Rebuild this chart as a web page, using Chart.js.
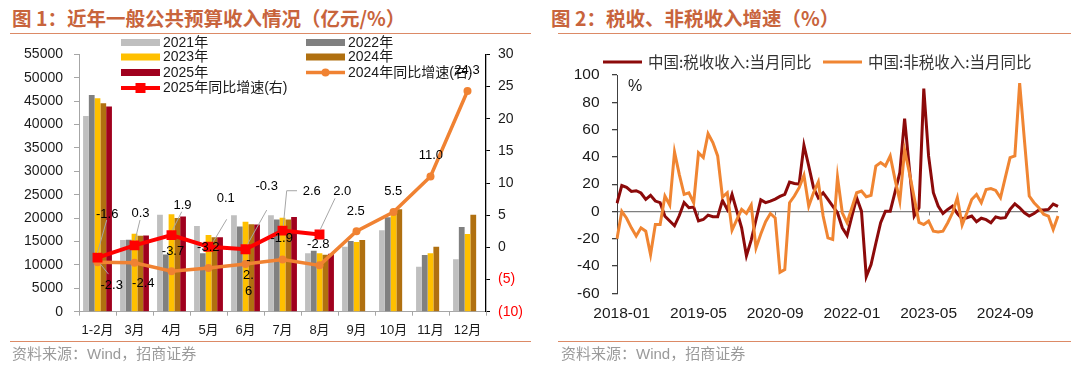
<!DOCTYPE html>
<html>
<head>
<meta charset="utf-8">
<script src="https://cdn.jsdelivr.net/npm/chart.js@4.4.1/dist/chart.umd.min.js"></script>
<style>
  body { margin: 0; width: 1080px; height: 367px; background: #fff; position: relative; overflow: hidden; }
  canvas { position: absolute; top: 0; }
  .title { position: absolute; top: 6px; font: bold 19.5px "Noto Sans CJK SC", sans-serif; color: #c8643c; white-space: nowrap; line-height: 24px; }
  .rule { position: absolute; height: 0; border-top: 1.5px solid #dc8a66; }
  .src { position: absolute; top: 344px; font: 15px "Liberation Sans", "Noto Sans CJK SC", sans-serif; color: #9a9a9a; white-space: nowrap; line-height: 20px; }
</style>
</head>
<body>
<div class="title" style="left:12px">图 1：近年一般公共预算收入情况（亿元/%）</div>
<div class="rule" style="left:10px;width:521px;top:33px"></div>
<div class="title" style="left:551px">图 2：税收、非税收入增速（%）</div>
<div class="rule" style="left:558px;width:513px;top:33px"></div>

<canvas id="revChart" width="540" height="367" style="left:0"></canvas>
<canvas id="taxChart" width="540" height="367" style="left:540px"></canvas>

<div class="rule" style="left:10px;width:521px;top:341px"></div>
<div class="rule" style="left:558px;width:513px;top:341px"></div>
<div class="src" style="left:12px">资料来源：Wind，招商证券</div>
<div class="src" style="left:561px">资料来源：Wind，招商证券</div>

<script>
// ===================
// 图1 数据（亿元 / %）
// ===================
const months = ["1-2月", "3月", "4月", "5月", "6月", "7月", "8月", "9月", "10月", "11月", "12月"];
const rev2021 = [41800, 15300, 20700, 18300, 20600, 20600, 12500, 13900, 17400, 9600, 11200];
const rev2022 = [46300, 15400, 12200, 12500, 18200, 19700, 13000, 15100, 20200, 12100, 18100];
const rev2023 = [45600, 16650, 20800, 16400, 19200, 20100, 12500, 14900, 21300, 12500, 16600];
const rev2024 = [44550, 16250, 20000, 15900, 18700, 19700, 12150, 15300, 21900, 13900, 20700];
const rev2025 = [43850, 16300, 20350, 15900, 18650, 20250, 12400, null, null, null, null];
const yoy2024 = [-2.3, -2.4, -3.7, -3.2, -2.6, -1.9, -2.8, 2.5, 5.5, 11.0, 24.3];
const yoy2025 = [-1.6, 0.3, 1.9, 0.1, -0.3, 2.6, 2.0, null, null, null, null];

// ===================
// 图2 数据（当月同比 %），首个点为被坐标轴截掉的 2017-12
// ===================
const taxYoy = [
  6, 19, 17.6, 14.7, 15.2, 13.5, 8.8, 11.8, 7.6, 6.4, -3.5,
  -7, -10.5, -3, 6.5, 2.7, 3.2, -7, -5.9, -2.7, -3.9,
  -3.9, 8.1, 1.5, 12.5, 0.2, -12, -32.5, -21, -6, 8.5,
  6.5, 7.5, 9, 11, 12.5, 21.5, 20.5, 20, 48.5, 33.3,
  17.4, 10, 13.7, 8.8, 3.9, -1, -12, -17.6, -3.4, 10,
  0.2, -47.8, -39, -23.3, -8.3, 0.2, 0.2, 14.2, 28.4, 68,
  31, -3.4, 2.7, 90, 40.7, 13.7, 3.9, -1.5, 1.5, 3.9,
  -1.5, -5.4, -4.6, -3.4, -7.6, -5, -6, -8.3, -4, -5,
  -4.6, 1.5, 5.6, 2.7, -1, -3.4, -1.5, 1, 1, 1.5, 5.4, 3.7
];
const nonTaxYoy = [
  -20, 0, -5, -12, -18, -12, -14.5, -31.6, -9.6, -9.6, 11.3,
  4.7, 43.6, 27, 12.5, 13.7, 6.4, 43, 39.5, 57, 50.5,
  40.7, 10.5, 13.7, -13.7, -6, 1.5, -1.5, 4.7, -26.7, -16.5,
  -7.5, -1.5, -4.7, -44.6, -42.6, 6.4, 11.3, 17.4, 26.5, 3.9,
  13.7, 21.6, -3.4, -19.4, -20.6, 25.2, -1, -8.3, 2.7, 13.7,
  15, 10.8, 11.8, 33.3, 35.8, 33.3, 40.7, 23.5, 7.6, 45,
  28.4, 10, -8, -9.6, -7, -14.5, -15, -14.5, -8.3, -1,
  10, -10, -1, 8.8, 12.5, 6.4, 16, 16.7, 15.4, 10,
  24.8, 39.5, 40.7, 94, 52, 11.3, 6.4, 2.7, -2, -3.4, -13.2, -3.4
];
const shownDates = ["2018-01", "2019-05", "2020-09", "2022-01", "2023-05", "2024-09"];

// 月份类别：2017-12 起
const monthLabels = [];
for (let k = 0; k < taxYoy.length; k++) {
  const m = 11 + k;
  monthLabels.push(2017 + Math.floor(m / 12) + "-" + String((m % 12) + 1).padStart(2, "0"));
}

Chart.defaults.font.family = '"Liberation Sans", Arial, "Noto Sans CJK SC", sans-serif';
Chart.defaults.color = "#1a1a1a";
Chart.defaults.animation = false;

// ===================
// 图1：标签位置（相对数据点的偏移）
// ===================
const labelLayout2025 = [
  { dx: 9.7, dy: -43.3, lead: [[9.2, -37.6], [0, -5]] },
  { dx: 6, dy: -32, lead: [[5.5, -25.4], [0.5, -5]] },
  { dx: 11, dy: -29.4, lead: [[10.2, -23.4], [1, -5]] },
  { dx: 17.3, dy: -48.4, lead: [[18.2, -27.4], [4.8, -5]] },
  { dx: 21.2, dy: -62.5, lead: [[21.2, -39.2], [2, -5]] },
  { dx: 29.2, dy: -39.3, lead: [[14.5, -39.9], [4.2, -39.9], [0.8, -5]] },
  { dx: 22.7, dy: -43.1, lead: [[15.5, -36.1], [0.5, -4.4]] },
];
const labelLayout2024 = [
  { dx: 14.2, dy: 23, lead: [[3, 2], [11, 12]] },
  { dx: 8.8, dy: 20.6 },
  { dx: 1.5, dy: -19.5 },
  { dx: -0.2, dy: -20.4 },
  { dx: 3, dy: -4, wrap: 15.8 },
  { dx: -0.8, dy: -20.8 },
  { dx: -1.2, dy: -20.6 },
  { dx: -0.7, dy: -20.2 },
  { dx: -0.2, dy: -20.9 },
  { dx: 0.3, dy: -20.8 },
  { dx: -0.5, dy: -20.9 },
];

// 图例位置 [x, y]
const legendSlots = {
  "2021年": [121, 42.5], "2022年": [306, 42.5],
  "2023年": [121, 57], "2024年": [306, 57],
  "2025年": [121, 72.5], "2024年同比增速(右)": [306, 72.5],
  "2025年同比增速(右)": [121, 88],
};

const pointLabelPlugin = {
  id: "pointLabels",
  afterDatasetsDraw(chart) {
    const ctx = chart.ctx;
    ctx.save();
    chart.data.datasets.forEach((ds, di) => {
      if (!ds.labelLayout) return;
      const meta = chart.getDatasetMeta(di);
      meta.data.forEach((pt, i) => {
        const v = ds.data[i];
        const lay = ds.labelLayout[i];
        if (v === null || !lay) return;
        if (lay.lead) {
          ctx.strokeStyle = "#a6a6a6";
          ctx.lineWidth = 1;
          ctx.beginPath();
          lay.lead.forEach((p, k) => {
            if (k === 0) ctx.moveTo(pt.x + p[0], pt.y + p[1]);
            else ctx.lineTo(pt.x + p[0], pt.y + p[1]);
          });
          ctx.stroke();
        }
        const txt = v.toFixed(1);
        ctx.font = '13px "Liberation Sans", Arial';
        ctx.fillStyle = "#000";
        ctx.textAlign = "center";
        ctx.textBaseline = "middle";
        if (lay.wrap) {
          [txt.slice(0, 1), txt.slice(1, 3), txt.slice(3)].forEach((s, k) => {
            ctx.fillText(s, pt.x + lay.dx, pt.y + lay.dy + k * lay.wrap);
          });
        } else {
          ctx.fillText(txt, pt.x + lay.dx, pt.y + lay.dy);
        }
      });
    });
    ctx.restore();
  },
};

const leftLegendPlugin = {
  id: "leftLegend",
  afterDraw(chart) {
    const ctx = chart.ctx;
    ctx.save();
    chart.data.datasets.forEach((ds) => {
      const slot = legendSlots[ds.label];
      if (!slot) return;
      const [x, y] = slot;
      if (ds.type === "bar") {
        ctx.fillStyle = ds.backgroundColor;
        ctx.fillRect(x, y - 3.5, 39, 7);
      } else {
        ctx.strokeStyle = ds.borderColor;
        ctx.lineWidth = ds.borderWidth;
        ctx.beginPath();
        ctx.moveTo(x, y);
        ctx.lineTo(x + 39, y);
        ctx.stroke();
        ctx.fillStyle = ds.borderColor;
        ctx.beginPath();
        if (ds.pointStyle === "rect") ctx.rect(x + 14.5, y - 5, 10, 10);
        else ctx.arc(x + 19.5, y, 4, 0, Math.PI * 2);
        ctx.fill();
      }
      ctx.font = '14px "Liberation Sans", Arial, "Noto Sans CJK SC"';
      ctx.fillStyle = "#1a1a1a";
      ctx.textAlign = "left";
      ctx.textBaseline = "middle";
      ctx.fillText(ds.label, x + 42, y + 0.5);
    });
    ctx.restore();
  },
};

new Chart(document.getElementById("revChart"), {
  data: {
    labels: months,
    datasets: [
      {
        type: "line", label: "2025年同比增速(右)", data: yoy2025, yAxisID: "y1", order: 0,
        borderColor: "#ff0000", backgroundColor: "#ff0000", borderWidth: 4,
        pointStyle: "rect", pointRadius: 7, pointBorderWidth: 0, tension: 0,
        labelLayout: labelLayout2025,
      },
      {
        type: "line", label: "2024年同比增速(右)", data: yoy2024, yAxisID: "y1", order: 1,
        borderColor: "#f08232", backgroundColor: "#f08232", borderWidth: 3.5,
        pointStyle: "circle", pointRadius: 4, pointBorderWidth: 0, tension: 0,
        labelLayout: labelLayout2024,
      },
      { type: "bar", label: "2021年", data: rev2021, backgroundColor: "#bfbfbf", order: 2 },
      { type: "bar", label: "2022年", data: rev2022, backgroundColor: "#808080", order: 2 },
      { type: "bar", label: "2023年", data: rev2023, backgroundColor: "#ffc000", order: 2 },
      { type: "bar", label: "2024年", data: rev2024, backgroundColor: "#b07010", order: 2 },
      { type: "bar", label: "2025年", data: rev2025, backgroundColor: "#a0001e", order: 2 },
    ],
  },
  options: {
    responsive: false,
    animation: false,
    layout: { padding: { top: 54.3, left: 0, right: 0, bottom: 0 } },
    datasets: { bar: { categoryPercentage: 0.78, barPercentage: 1.0 } },
    plugins: { legend: { display: false }, tooltip: { enabled: false } },
    scales: {
      x: {
        offset: true,
        grid: { offset: true, drawOnChartArea: false, tickLength: 4, color: "#a6a6a6" },
        border: { color: "#a6a6a6" },
        ticks: { autoSkip: false, maxRotation: 0, padding: 7, font: { size: 13 }, color: "#1a1a1a" },
        afterFit: (s) => { s.height = 55.3; },
      },
      y: {
        position: "left", min: 0, max: 55000,
        grid: { drawOnChartArea: false, tickLength: 5, color: "#a6a6a6" },
        border: { color: "#a6a6a6" },
        ticks: { stepSize: 5000, padding: 11, font: { size: 14 }, callback: (v) => String(v) },
        afterFit: (s) => { s.width = 79; },
      },
      y1: {
        position: "right", min: -10, max: 30,
        grid: { drawOnChartArea: false, tickLength: 4, color: "#000" },
        border: { color: "#000", width: 1.3 },
        ticks: {
          stepSize: 5, padding: 8, font: { size: 14 },
          color: (c) => (c.tick && c.tick.value < 0 ? "#ff0000" : "#1a1a1a"),
          callback: (v) => (v < 0 ? "(" + -v + ")" : String(v)),
        },
        afterFit: (s) => { s.width = 54; },
      },
    },
  },
  plugins: [pointLabelPlugin, leftLegendPlugin],
});

// ===================
// 图2：税收、非税收入增速
// ===================
const taxLegend = [
  { label: "中国:税收收入:当月同比", color: "#8c0a0a", x: 63 },
  { label: "中国:非税收入:当月同比", color: "#f08532", x: 283 },
];

const rightDecorPlugin = {
  id: "rightDecor",
  beforeDatasetsDraw(chart) {
    const ctx = chart.ctx;
    const xs = chart.scales.x;
    const y0 = chart.scales.y.getPixelForValue(0);
    ctx.save();
    ctx.strokeStyle = "#7f7f7f";
    ctx.lineWidth = 1;
    monthLabels.forEach((m, i) => {
      if (!shownDates.includes(m) || i === 1) return;
      const x = Math.round(xs.getPixelForValue(i)) + 0.5;
      ctx.beginPath();
      ctx.moveTo(x, y0);
      ctx.lineTo(x, y0 + 4);
      ctx.stroke();
    });
    ctx.restore();
  },
  afterDraw(chart) {
    const ctx = chart.ctx;
    ctx.save();
    ctx.textBaseline = "middle";
    taxLegend.forEach((it) => {
      ctx.strokeStyle = it.color;
      ctx.lineWidth = 3;
      ctx.beginPath();
      ctx.moveTo(it.x, 62);
      ctx.lineTo(it.x + 39, 62);
      ctx.stroke();
      ctx.font = '15.5px "Noto Sans CJK SC", sans-serif';
      ctx.fillStyle = "#333";
      ctx.textAlign = "left";
      ctx.fillText(it.label, it.x + 45, 62);
    });
    ctx.font = '16px "Liberation Sans", Arial';
    ctx.fillStyle = "#1a1a1a";
    ctx.textAlign = "center";
    ctx.fillText("%", 95, 86.5);
    ctx.restore();
  },
};

new Chart(document.getElementById("taxChart"), {
  type: "line",
  data: {
    labels: monthLabels,
    datasets: [
      {
        label: "中国:非税收入:当月同比", data: nonTaxYoy, order: 0,
        borderColor: "#f08532", borderWidth: 3, pointRadius: 0, tension: 0,
      },
      {
        label: "中国:税收收入:当月同比", data: taxYoy, order: 1,
        borderColor: "#8c0a0a", borderWidth: 3, pointRadius: 0, tension: 0,
      },
    ],
  },
  options: {
    responsive: false,
    animation: false,
    layout: { padding: { top: 75, left: 0, right: 22, bottom: 0 } },
    plugins: { legend: { display: false }, tooltip: { enabled: false } },
    scales: {
      x: {
        offset: false,
        grid: { display: false },
        border: { display: false },
        ticks: {
          autoSkip: false, maxRotation: 0, minRotation: 0, padding: 3,
          font: { size: 15.5 }, color: "#1a1a1a",
          callback: (v, i) => (shownDates.includes(monthLabels[i]) ? monthLabels[i] : null),
        },
        afterFit: (s) => { s.height = 73.7; },
      },
      y: {
        min: -60, max: 100,
        grid: {
          color: (c) => (c.tick && c.tick.value === 0 ? "#7f7f7f" : "rgba(0,0,0,0)"),
          lineWidth: 1.3, tickLength: 5, tickColor: "#404040",
        },
        border: { color: "#404040" },
        ticks: { stepSize: 20, padding: 12.5, font: { size: 15.5 }, color: "#1a1a1a", callback: (v) => String(v) },
        afterFit: (s) => { s.width = 77; },
      },
    },
  },
  plugins: [rightDecorPlugin],
});
</script>
</body>
</html>
